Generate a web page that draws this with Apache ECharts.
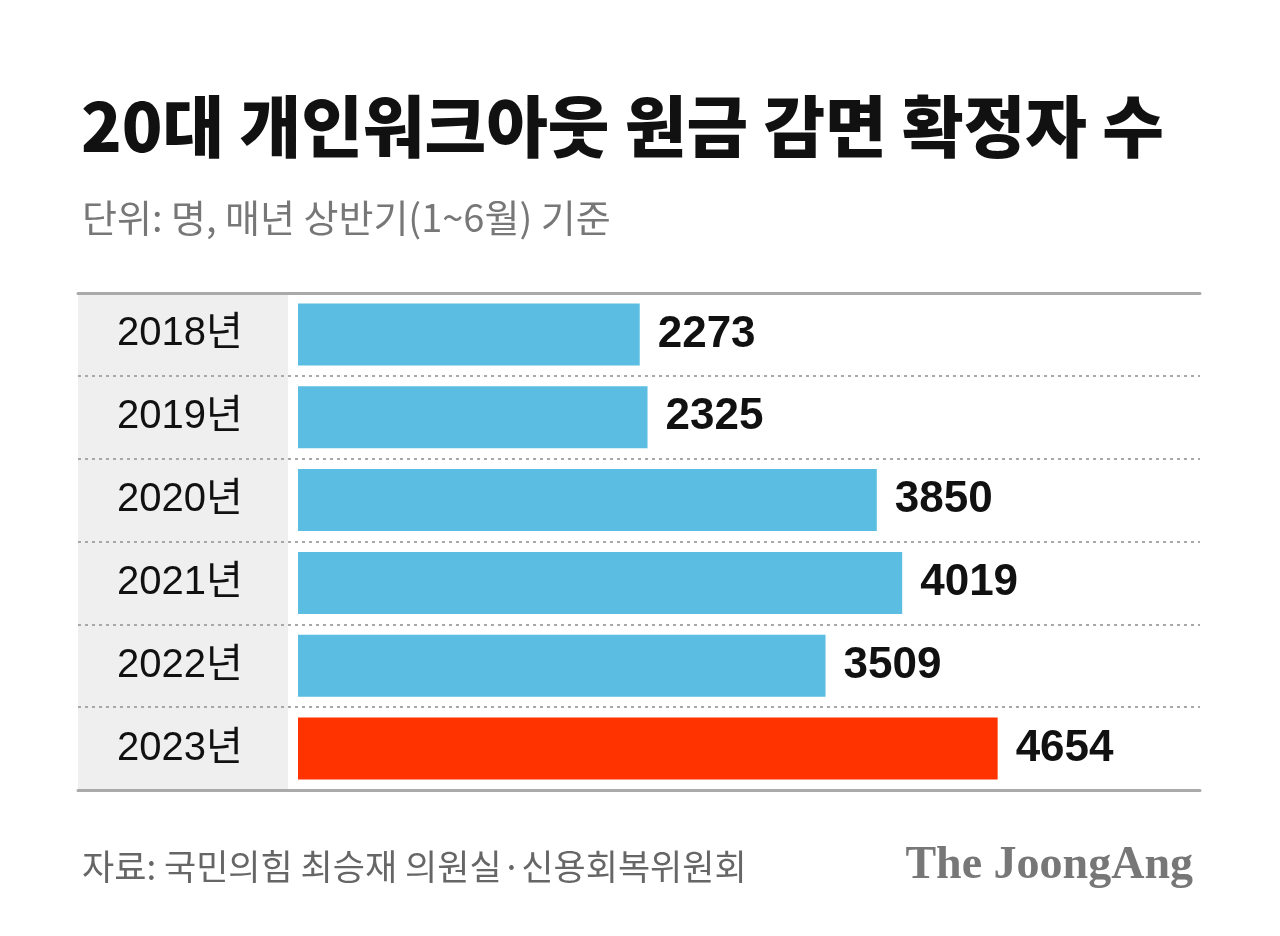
<!DOCTYPE html>
<html>
<head>
<meta charset="utf-8">
<script src="https://cdn.jsdelivr.net/npm/echarts@6/dist/echarts.min.js"></script>
<style>
  html, body { margin: 0; padding: 0; background: #ffffff; }
  #chart { width: 1280px; height: 936px; }
</style>
</head>
<body>
<div id="chart"></div>
<script>
// ---- data ----
const years = ['2018년', '2019년', '2020년', '2021년', '2022년', '2023년'];
const counts = [2273, 2325, 3850, 4019, 3509, 4654];
const highlightYear = '2023년';

const titleText = '20대 개인워크아웃 원금 감면 확정자 수';
const subtitleText = '단위: 명, 매년 상반기(1~6월) 기준';
const sourceText = '자료: 국민의힘 최승재 의원실·신용회복위원회';
const brandText = 'The JoongAng';

// ---- chart ----
const chart = echarts.init(document.getElementById('chart'), null, { renderer: 'canvas' });
const KR = '"Noto Sans CJK KR", "Noto Sans", sans-serif';
const NUM = '"Liberation Sans", "Noto Sans CJK KR", sans-serif';

const barData = counts.map((v, i) => ({
  value: v,
  itemStyle: { color: years[i] === highlightYear ? '#ff3300' : '#5abde1' }
}));

const gridTop = 293, gridBottom = 146;

const option = {
  backgroundColor: '#ffffff',
  animation: false,
  title: [
    { text: titleText, left: 76, top: 85,
      textStyle: { fontFamily: KR, fontSize: 67, fontWeight: 900, color: '#111111', lineHeight: 74 } },
    { text: subtitleText, left: 77, top: 193,
      textStyle: { fontFamily: KR, fontSize: 38, fontWeight: 400, color: '#777777', lineHeight: 40 } },
    { text: sourceText, left: 77, top: 842,
      textStyle: { fontFamily: KR, fontSize: 35, fontWeight: 400, color: '#666666', lineHeight: 40 } },
    { text: brandText, right: 82, top: 838,
      textStyle: { fontFamily: '"Liberation Serif", "DejaVu Serif", serif', fontSize: 46, fontWeight: 700, color: '#777777' } }
  ],
  grid: [
    // full-width frame for separators and rules
    { left: 78, right: 80, top: gridTop, bottom: gridBottom },
    // bars
    { left: 298, right: 80, top: gridTop, bottom: gridBottom },
    // grey label column
    { left: 78, width: 210, top: gridTop + 2, bottom: gridBottom + 1, show: true,
      backgroundColor: '#efefef', borderWidth: 0 }
  ],
  xAxis: [
    { gridIndex: 0, type: 'value', position: 'top', min: 0, max: 1, z: 5,
      axisLine: { show: true, onZero: false, lineStyle: { color: '#aaaaaa', width: 3 } },
      axisTick: { show: false }, axisLabel: { show: false }, splitLine: { show: false } },
    { gridIndex: 0, type: 'value', position: 'bottom', min: 0, max: 1, z: 5,
      axisLine: { show: true, onZero: false, lineStyle: { color: '#aaaaaa', width: 3 } },
      axisTick: { show: false }, axisLabel: { show: false }, splitLine: { show: false } },
    { gridIndex: 1, type: 'value', min: 0, max: 6000, show: false },
    { gridIndex: 2, type: 'value', min: 0, max: 1, show: false }
  ],
  yAxis: [
    { gridIndex: 0, type: 'category', data: years, inverse: true, z: 3,
      axisLine: { show: false }, axisTick: { show: false }, axisLabel: { show: false },
      splitLine: { show: true, lineStyle: { color: '#a8a8a8', width: 2, type: [3, 4] } } },
    { gridIndex: 1, type: 'category', data: years, inverse: true, z: 4,
      axisLine: { show: false }, axisTick: { show: false }, splitLine: { show: false },
      axisLabel: { show: true, margin: 118, align: 'center', fontFamily: NUM,
        fontSize: 40, color: '#111111' } },
    { gridIndex: 2, type: 'category', data: years, show: false }
  ],
  series: [
    {
      type: 'bar', xAxisIndex: 2, yAxisIndex: 1,
      data: barData, barWidth: 62, z: 2,
      label: { show: true, position: 'right', distance: 18,
        fontFamily: NUM, fontSize: 44, fontWeight: 'bold', color: '#111111' }
    }
  ]
};
chart.setOption(option);
</script>
</body>
</html>
